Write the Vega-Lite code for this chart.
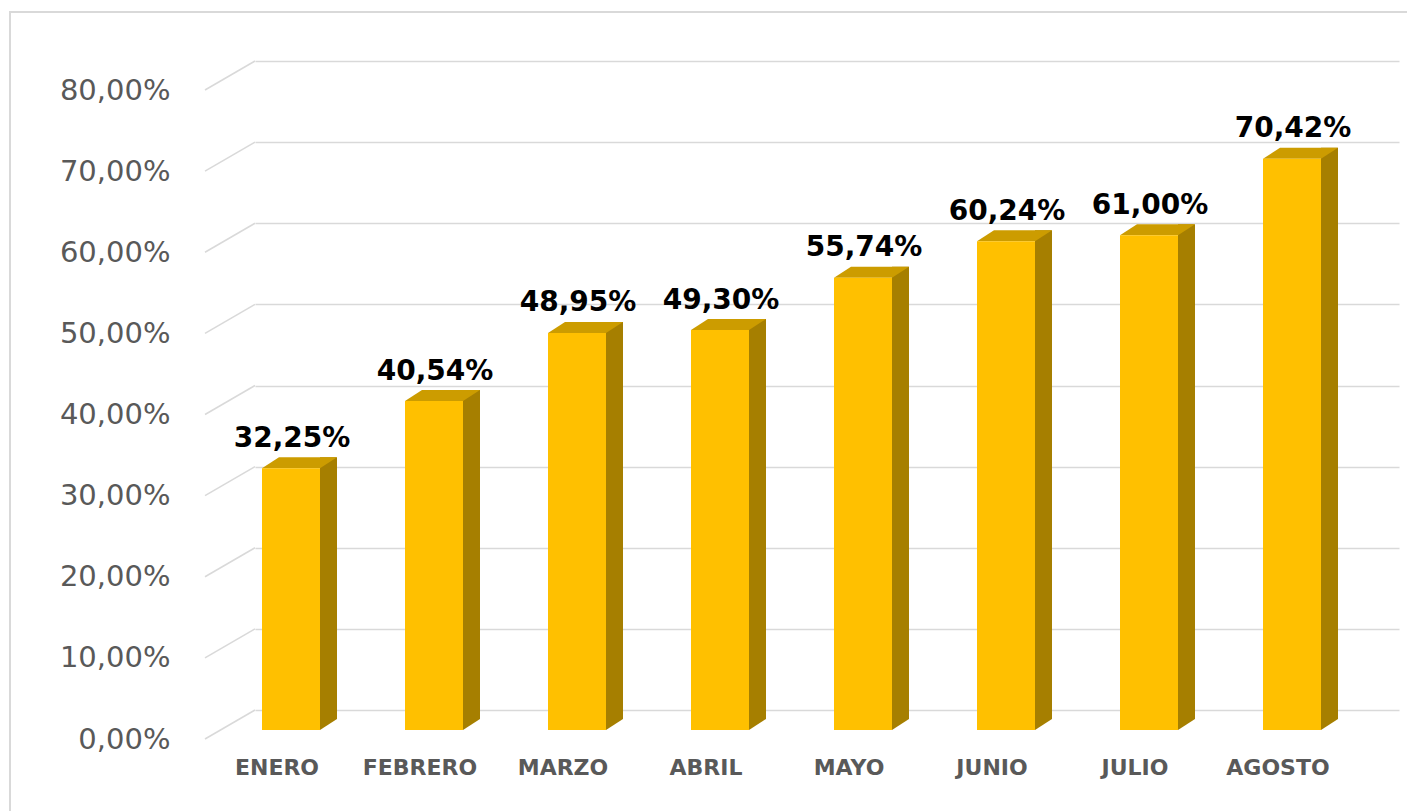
{
  "$schema": "https://vega.github.io/schema/vega-lite/v6.json",
  "width": 1144,
  "height": 649,
  "autosize": "none",
  "padding": {"left": 255, "top": 61, "right": 8, "bottom": 101},
  "background": "white",
  "config": {
    "view": {"stroke": null},
    "locale": {"number": {"decimal": ",", "thousands": ".", "grouping": [3], "currency": ["", " €"]}}
  },
  "data": {
    "values": [
      {"mes": "ENERO", "v": 0.3225},
      {"mes": "FEBRERO", "v": 0.4054},
      {"mes": "MARZO", "v": 0.4895},
      {"mes": "ABRIL", "v": 0.4930},
      {"mes": "MAYO", "v": 0.5574},
      {"mes": "JUNIO", "v": 0.6024},
      {"mes": "JULIO", "v": 0.6100},
      {"mes": "AGOSTO", "v": 0.7042}
    ]
  },
  "encoding": {
    "x": {
      "field": "mes",
      "type": "nominal",
      "sort": null,
      "scale": {"paddingInner": 0, "paddingOuter": 0},
      "axis": {
        "title": null,
        "domain": false,
        "ticks": false,
        "grid": false,
        "labelAngle": 0,
        "labelPadding": 47,
        "labelOffset": -49.5,
        "labelFont": "DejaVu Sans",
        "labelFontWeight": "bold",
        "labelFontSize": 22,
        "labelColor": "#595959"
      }
    },
    "y": {
      "field": "v",
      "type": "quantitative",
      "scale": {"domain": [0, 0.8], "nice": false},
      "axis": {
        "title": null,
        "values": [0, 0.1, 0.2, 0.3, 0.4, 0.5, 0.6, 0.7, 0.8],
        "format": ".2%",
        "domain": false,
        "grid": true,
        "gridColor": "#D9D9D9",
        "gridWidth": 1.5,
        "ticks": true,
        "tickSize": 50,
        "tickOpacity": 0,
        "labelPadding": 35,
        "labelOffset": 29,
        "labelFont": "DejaVu Sans",
        "labelFontSize": 29,
        "labelColor": "#595959"
      }
    }
  },
  "layer": [
    {
      "data": {"values": [{"b": 0.8}]},
      "mark": {"type": "point", "shape": "M-245,760L-245,-49L1160,-49", "size": 4, "filled": false, "stroke": "#D9D9D9", "strokeWidth": 2, "opacity": 1, "xOffset": -71.5},
      "encoding": {
        "x": {"datum": "ENERO", "type": "nominal"},
        "y": {"field": "b", "type": "quantitative"}
      }
    },
    {
      "data": {"values": [{"g": 0}, {"g": 0.1}, {"g": 0.2}, {"g": 0.3}, {"g": 0.4}, {"g": 0.5}, {"g": 0.6}, {"g": 0.7}, {"g": 0.8}]},
      "mark": {"type": "point", "shape": "M0,0L-50,29", "size": 4, "filled": false, "stroke": "#D9D9D9", "strokeWidth": 1.5, "opacity": 1, "xOffset": -71.5},
      "encoding": {
        "x": {"datum": "ENERO", "type": "nominal"},
        "y": {"field": "g", "type": "quantitative"}
      }
    },
    {
      "mark": {"type": "bar", "color": "#A67F00", "opacity": 1, "width": 17, "xOffset": 2, "yOffset": 9}
    },
    {
      "mark": {"type": "point", "shape": "M29,20L46,9L29,9Z", "size": 4, "filled": true, "color": "#A67F00", "opacity": 1, "strokeWidth": 0, "xOffset": -35.5},
      "encoding": {"y": {"datum": 0, "type": "quantitative"}}
    },
    {
      "mark": {"type": "point", "shape": "M-29,20L29,20L46,9L-12,9Z", "size": 4, "filled": true, "color": "#CC9C00", "opacity": 1, "strokeWidth": 0, "xOffset": -35.5}
    },
    {
      "mark": {"type": "bar", "color": "#FFC000", "opacity": 1, "width": 58, "xOffset": -35.5, "yOffset": 20}
    },
    {
      "mark": {"type": "text", "font": "DejaVu Sans", "fontWeight": "bold", "fontSize": 28, "color": "#000000", "align": "center", "baseline": "alphabetic", "yOffset": -1.5, "xOffset": -34.5},
      "encoding": {
        "text": {"field": "v", "type": "quantitative", "format": ".2%"}
      }
    }
  ]
}
